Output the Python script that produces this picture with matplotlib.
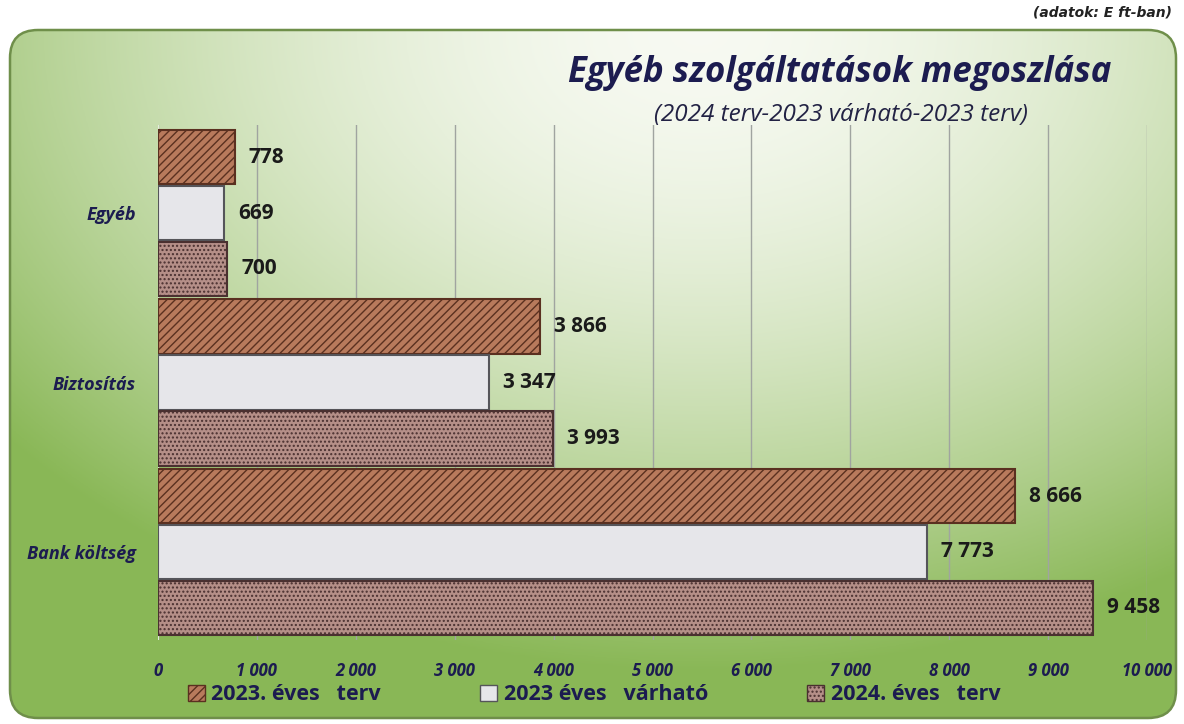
import numpy as np
import matplotlib
matplotlib.use("Agg")
from matplotlib import pyplot as plt
from matplotlib.patches import FancyBboxPatch, Patch
from matplotlib.ticker import FuncFormatter

categories = ["Bank költség", "Biztosítás", "Egyéb"]
series_names = ["2023. éves   terv", "2023 éves   várható", "2024. éves   terv"]
terv_2023 = [8666, 3866, 778]
varhato_2023 = [7773, 3347, 669]
terv_2024 = [9458, 3993, 700]
x_ticks = [0, 1000, 2000, 3000, 4000, 5000, 6000, 7000, 8000, 9000, 10000]

face_colors = ["#b87a5c", "#e6e6ea", "#b58f88"]
edge_colors = ["#5a3020", "#55555a", "#4a3030"]
hatches = ["////", "", "...."]
hatch_colors = ["#d9a488", "#ffffff", "#e4c8c0"]
navy = "#1c1c50"

plt.rcParams["font.family"] = ["Open Sans", "DejaVu Sans"]
fig = plt.figure(figsize=(11.84, 7.24), dpi=100)
fig.patch.set_facecolor("white")

# green rounded background, light towards the top middle
bg = fig.add_axes([0, 0, 1, 1], zorder=0)
bg.set_xlim(0, 1184)
bg.set_ylim(724, 0)
bg.axis("off")
px = np.linspace(10, 1176, 400)
py = np.linspace(30, 718, 240)
PX, PY = np.meshgrid(px, py)
t = np.sqrt(((PX - 700) / 900) ** 2 + ((PY - 30) / 640) ** 2)
t = np.clip(t, 0, 1) ** 1.7
c0 = np.array([0.97, 0.98, 0.95])
c1 = np.array([0.54, 0.72, 0.34])
img = c0 + (c1 - c0) * t[..., None]
box = FancyBboxPatch((10, 30), 1166, 688, boxstyle="round,pad=0,rounding_size=28",
                     facecolor="none", edgecolor="#6f8f4a", linewidth=1.8)
bg.add_patch(box)
im = bg.imshow(img, extent=(10, 1176, 718, 30), aspect="auto", zorder=0)
im.set_clip_path(box)
bg.text(1172, 12, "(adatok: E ft-ban)", ha="right", va="center", fontsize=10,
        fontweight="bold", fontstyle="italic", color="#222222",
        family=["Liberation Sans Narrow", "DejaVu Sans"])
bg.text(840, 73, "Egyéb szolgáltatások megoszlása", ha="center", va="center",
        fontsize=25, fontweight="bold", fontstyle="italic", color=navy)
bg.text(841, 115, "(2024 terv-2023 várható-2023 terv)", ha="center", va="center",
        fontsize=17.5, fontstyle="italic", color="#222244")

ax = fig.add_axes([158 / 1184, 84 / 724, 989 / 1184, 515 / 724], zorder=1)
ax.patch.set_alpha(0)
y = np.arange(len(categories))
h = 0.33
offsets = [h, 0, -h]
for vals, off, fc, ec, hc, hatch in zip(
    [terv_2023, varhato_2023, terv_2024], offsets, face_colors, edge_colors,
    hatch_colors, hatches
):
    plt.rcParams["hatch.color"] = hc
    bars = ax.barh(y + off, vals, height=h * 0.97, color=fc, edgecolor=ec,
                   linewidth=1.5, hatch=hatch, zorder=3)
    for b, v in zip(bars, vals):
        ax.text(v + 140, b.get_y() + b.get_height() / 2,
                f"{v:,}".replace(",", " "), va="center", ha="left",
                fontsize=15, fontweight="bold", color="#1a1a1a", zorder=4)

ax.set_xlim(0, 10000)
ax.set_ylim(-0.52, 2.52)
ax.set_xticks(x_ticks)
ax.xaxis.set_major_formatter(FuncFormatter(lambda v, p: f"{int(v):,}".replace(",", " ")))
ax.grid(axis="x", color="#a0a4a0", linewidth=1, zorder=1)
ax.set_yticks(y)
ax.set_yticklabels(categories)
for lab in ax.get_xticklabels():
    lab.set_fontsize(12)
    lab.set_fontstyle("italic")
    lab.set_fontweight("bold")
    lab.set_color(navy)
for lab in ax.get_yticklabels():
    lab.set_fontsize(13)
    lab.set_fontstyle("italic")
    lab.set_fontweight("bold")
    lab.set_color(navy)
ax.tick_params(axis="both", length=0)
ax.tick_params(axis="x", pad=16)
ax.tick_params(axis="y", pad=16)
for s in ax.spines.values():
    s.set_visible(False)
ax.axvline(0, color="#e4ecdc", linewidth=1.5, zorder=2)

handles = [Patch(facecolor=fc, edgecolor=ec, hatch=hatch)
           for fc, ec, hatch in zip(face_colors, edge_colors, hatches)]
fig.legend(handles, series_names, loc="center", bbox_to_anchor=(594 / 1184, 1 - 695 / 724),
           ncol=3, frameon=False, handlelength=0.8, handleheight=0.8, handletextpad=0.3,
           columnspacing=4.6, prop={"size": 15.5, "weight": "bold"}, labelcolor=navy)

fig.savefig("out.png", dpi=100)
